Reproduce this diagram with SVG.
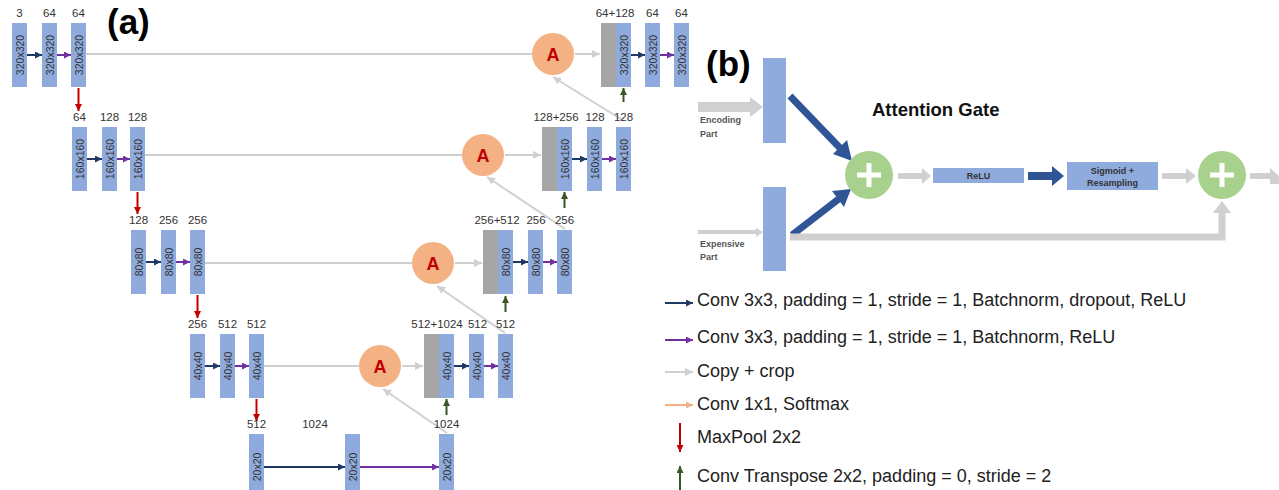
<svg xmlns="http://www.w3.org/2000/svg" width="1279" height="490" viewBox="0 0 1279 490">
<defs>
<style>
.blk{fill:#8FAADC}
.gry{fill:#A6A6A6}
.dim{font-family:"Liberation Sans",Arial,sans-serif;font-size:10.5px;fill:#333;text-anchor:middle;dominant-baseline:central}
.lbl{font-family:"Liberation Sans",Arial,sans-serif;font-size:11.5px;fill:#333;text-anchor:middle}
.ac{fill:#F4B183}
.at{font-family:"Liberation Sans",Arial,sans-serif;font-size:18px;font-weight:bold;fill:#C00000;text-anchor:middle;dominant-baseline:central}
.title{font-family:"Liberation Sans",Arial,sans-serif;font-size:35px;font-weight:bold;fill:#000}
.cn{stroke:#1F3864;stroke-width:2;fill:none}
.cp{stroke:#7030A0;stroke-width:2;fill:none}
.cg{stroke:#D0D0D0;stroke-width:2;fill:none}
.cr{stroke:#C00000;stroke-width:2;fill:none}
.cgr{stroke:#385723;stroke-width:2;fill:none}
.co{stroke:#F4B183;stroke-width:2;fill:none}
.leg{font-family:"Liberation Sans",Arial,sans-serif;font-size:18px;fill:#222}
.sm{font-family:"Liberation Sans",Arial,sans-serif;font-size:9px;font-weight:bold;fill:#555}
.smc{font-family:"Liberation Sans",Arial,sans-serif;font-size:9px;font-weight:bold;fill:#333;text-anchor:middle}
.gc{fill:#A9D18E}
.plus{stroke:#fff;stroke-width:5}
.bg{fill:#D0D0D0}
.bn{fill:#2F5597}
</style>
<marker id="mn" viewBox="0 0 10 10" refX="10" refY="5" markerWidth="7" markerHeight="7" markerUnits="userSpaceOnUse" orient="auto"><path d="M0,0L10,5L0,10z" fill="#1F3864"/></marker>
<marker id="mp" viewBox="0 0 10 10" refX="10" refY="5" markerWidth="7" markerHeight="7" markerUnits="userSpaceOnUse" orient="auto"><path d="M0,0L10,5L0,10z" fill="#7030A0"/></marker>
<marker id="mg" viewBox="0 0 10 10" refX="10" refY="5" markerWidth="8" markerHeight="8" markerUnits="userSpaceOnUse" orient="auto"><path d="M0,0L10,5L0,10z" fill="#D0D0D0"/></marker>
<marker id="mr" viewBox="0 0 10 10" refX="10" refY="5" markerWidth="7" markerHeight="7" markerUnits="userSpaceOnUse" orient="auto"><path d="M0,0L10,5L0,10z" fill="#C00000"/></marker>
<marker id="mgr" viewBox="0 0 10 10" refX="10" refY="5" markerWidth="7" markerHeight="7" markerUnits="userSpaceOnUse" orient="auto"><path d="M0,0L10,5L0,10z" fill="#385723"/></marker>
<marker id="mo" viewBox="0 0 10 10" refX="10" refY="5" markerWidth="7" markerHeight="7" markerUnits="userSpaceOnUse" orient="auto"><path d="M0,0L10,5L0,10z" fill="#F4B183"/></marker>
</defs>
<rect width="1279" height="490" fill="#fff"/>

<text class="title" x="107" y="34">(a)</text>
<text class="title" x="706" y="76">(b)</text>

<!-- connectors -->
<g id="connectors">
<!-- row 1 -->
<line class="cn" x1="27" y1="55" x2="42" y2="55" marker-end="url(#mn)"/>
<line class="cp" x1="57" y1="55" x2="71" y2="55" marker-end="url(#mp)"/>
<line class="cg" x1="86" y1="54" x2="532" y2="54"/>
<line class="cr" x1="78.5" y1="88" x2="78.5" y2="111" marker-end="url(#mr)"/>
<line class="cg" x1="575" y1="54" x2="600" y2="54" marker-end="url(#mg)"/>
<line class="cn" x1="631" y1="55" x2="645" y2="55" marker-end="url(#mn)"/>
<line class="cp" x1="660" y1="55" x2="674" y2="55" marker-end="url(#mp)"/>
<line class="cgr" x1="623.5" y1="102" x2="623.5" y2="88" marker-end="url(#mgr)"/>
<line class="cg" x1="624" y1="121" x2="553" y2="77" marker-end="url(#mg)"/>
<!-- row 2 -->
<line class="cn" x1="86" y1="159" x2="102" y2="159" marker-end="url(#mn)"/>
<line class="cp" x1="116" y1="159" x2="130" y2="159" marker-end="url(#mp)"/>
<line class="cg" x1="145" y1="155" x2="462" y2="155"/>
<line class="cr" x1="137.5" y1="192" x2="137.5" y2="214" marker-end="url(#mr)"/>
<line class="cg" x1="505" y1="155" x2="541" y2="155" marker-end="url(#mg)"/>
<line class="cn" x1="572" y1="159" x2="587" y2="159" marker-end="url(#mn)"/>
<line class="cp" x1="602" y1="159" x2="616" y2="159" marker-end="url(#mp)"/>
<line class="cgr" x1="564.5" y1="208" x2="564.5" y2="192" marker-end="url(#mgr)"/>
<line class="cg" x1="565" y1="229" x2="487" y2="177" marker-end="url(#mg)"/>
<!-- row 3 -->
<line class="cn" x1="145" y1="262" x2="161" y2="262" marker-end="url(#mn)"/>
<line class="cp" x1="175" y1="262" x2="190" y2="262" marker-end="url(#mp)"/>
<line class="cg" x1="205" y1="263" x2="412" y2="263"/>
<line class="cr" x1="197.5" y1="295" x2="197.5" y2="318" marker-end="url(#mr)"/>
<line class="cg" x1="455" y1="263" x2="482" y2="263" marker-end="url(#mg)"/>
<line class="cn" x1="513" y1="262" x2="528" y2="262" marker-end="url(#mn)"/>
<line class="cp" x1="543" y1="262" x2="557" y2="262" marker-end="url(#mp)"/>
<line class="cgr" x1="505.5" y1="312" x2="505.5" y2="296" marker-end="url(#mgr)"/>
<line class="cg" x1="505" y1="333" x2="437" y2="286" marker-end="url(#mg)"/>
<!-- row 4 -->
<line class="cn" x1="205" y1="366" x2="220" y2="366" marker-end="url(#mn)"/>
<line class="cp" x1="235" y1="366" x2="249" y2="366" marker-end="url(#mp)"/>
<line class="cg" x1="264" y1="366" x2="359" y2="366"/>
<line class="cr" x1="256.5" y1="399" x2="256.5" y2="421" marker-end="url(#mr)"/>
<line class="cg" x1="402" y1="366" x2="423" y2="366" marker-end="url(#mg)"/>
<line class="cn" x1="454" y1="366" x2="469" y2="366" marker-end="url(#mn)"/>
<line class="cp" x1="484" y1="366" x2="498" y2="366" marker-end="url(#mp)"/>
<line class="cgr" x1="446.5" y1="415" x2="446.5" y2="399" marker-end="url(#mgr)"/>
<line class="cg" x1="447" y1="433" x2="383" y2="389" marker-end="url(#mg)"/>
<!-- row 5 -->
<line class="cn" x1="264" y1="467" x2="345" y2="467" marker-end="url(#mn)"/>
<line class="cp" x1="360" y1="467" x2="439" y2="467" marker-end="url(#mp)"/>
<!-- legend arrows -->
<line class="cn" x1="665" y1="303" x2="693" y2="303" marker-end="url(#mn)"/>
<line class="cp" x1="665" y1="340" x2="693" y2="340" marker-end="url(#mp)"/>
<line class="cg" x1="665" y1="372" x2="693" y2="372" marker-end="url(#mg)"/>
<line class="co" x1="665" y1="405" x2="693" y2="405" marker-end="url(#mo)"/>
<line class="cr" x1="680" y1="423" x2="680" y2="452" marker-end="url(#mr)"/>
<line class="cgr" x1="680" y1="490" x2="680" y2="466" marker-end="url(#mgr)"/>
<!-- (b) connectors -->
<polygon class="bg" points="698,102 750,102 750,97 763,107 750,117 750,112 698,112"/>
<polygon class="bg" points="698,230 756,230 756,228 763,232 756,237 756,234 698,234"/>
<line x1="790" y1="96" x2="841" y2="149" stroke="#2F5597" stroke-width="7"/>
<polygon class="bn" points="852,161 833,154 847,140"/>
<line x1="792" y1="235" x2="840" y2="198" stroke="#2F5597" stroke-width="7"/>
<polygon class="bn" points="851,189 844,207 832,191"/>
<polygon class="bg" points="898,173 922,173 922,168 931,176 922,184 922,179 898,179"/>
<polygon class="bn" points="1028,172 1052,172 1052,166 1064,176 1052,186 1052,180 1028,180"/>
<polygon class="bg" points="1162,173 1186,173 1186,168 1196,176 1186,184 1186,179 1162,179"/>
<polygon class="bg" points="1250,173 1270,173 1270,168 1279,176 1279,184 1270,184 1270,179 1250,179"/>
<polyline points="790,237 1222,237 1222,212" fill="none" stroke="#D0D0D0" stroke-width="7"/>
<polygon class="bg" points="1213,213 1222,201 1231,213"/>
</g>

<!-- encoder row 1 -->
<g id="e1a"><rect class="blk" x="12" y="23" width="15" height="64"/><text class="lbl" x="19.5" y="17">3</text><text class="dim" transform="translate(19.5,55) rotate(-90)">320x320</text></g>
<g id="e1b"><rect class="blk" x="42" y="23" width="15" height="64"/><text class="lbl" x="49.5" y="17">64</text><text class="dim" transform="translate(49.5,55) rotate(-90)">320x320</text></g>
<g id="e1c"><rect class="blk" x="71" y="23" width="15" height="64"/><text class="lbl" x="78.5" y="17">64</text><text class="dim" transform="translate(78.5,55) rotate(-90)">320x320</text></g>
<!-- encoder row 2 -->
<g id="e2a"><rect class="blk" x="72" y="127" width="15" height="64"/><text class="lbl" x="79.5" y="121">64</text><text class="dim" transform="translate(79.5,159) rotate(-90)">160x160</text></g>
<g id="e2b"><rect class="blk" x="102" y="127" width="15" height="64"/><text class="lbl" x="109.5" y="121">128</text><text class="dim" transform="translate(109.5,159) rotate(-90)">160x160</text></g>
<g id="e2c"><rect class="blk" x="130" y="127" width="15" height="64"/><text class="lbl" x="137.5" y="121">128</text><text class="dim" transform="translate(137.5,159) rotate(-90)">160x160</text></g>
<!-- encoder row 3 -->
<g id="e3a"><rect class="blk" x="131" y="230" width="15" height="64"/><text class="lbl" x="138.5" y="224">128</text><text class="dim" transform="translate(138.5,262) rotate(-90)">80x80</text></g>
<g id="e3b"><rect class="blk" x="161" y="230" width="15" height="64"/><text class="lbl" x="168.5" y="224">256</text><text class="dim" transform="translate(168.5,262) rotate(-90)">80x80</text></g>
<g id="e3c"><rect class="blk" x="190" y="230" width="15" height="64"/><text class="lbl" x="197.5" y="224">256</text><text class="dim" transform="translate(197.5,262) rotate(-90)">80x80</text></g>
<!-- encoder row 4 -->
<g id="e4a"><rect class="blk" x="190" y="334" width="15" height="64"/><text class="lbl" x="197.5" y="328">256</text><text class="dim" transform="translate(197.5,366) rotate(-90)">40x40</text></g>
<g id="e4b"><rect class="blk" x="220" y="334" width="15" height="64"/><text class="lbl" x="227.5" y="328">512</text><text class="dim" transform="translate(227.5,366) rotate(-90)">40x40</text></g>
<g id="e4c"><rect class="blk" x="249" y="334" width="15" height="64"/><text class="lbl" x="256.5" y="328">512</text><text class="dim" transform="translate(256.5,366) rotate(-90)">40x40</text></g>
<!-- bottleneck row 5 -->
<g id="b5a"><rect class="blk" x="249" y="434" width="15" height="60"/><text class="lbl" x="256.5" y="428">512</text><text class="dim" transform="translate(256.5,467) rotate(-90)">20x20</text></g>
<g id="b5b"><rect class="blk" x="345" y="434" width="15" height="60"/><text class="lbl" x="315" y="428">1024</text><text class="dim" transform="translate(352.5,467) rotate(-90)">20x20</text></g>
<g id="b5c"><rect class="blk" x="439" y="434" width="15" height="60"/><text class="lbl" x="446.5" y="428">1024</text><text class="dim" transform="translate(446.5,467) rotate(-90)">20x20</text></g>

<!-- attention circles -->
<g id="A1"><circle class="ac" cx="553" cy="54" r="21"/><text class="at" x="553" y="55">A</text></g>
<g id="A2"><circle class="ac" cx="483" cy="155" r="21"/><text class="at" x="483" y="156">A</text></g>
<g id="A3"><circle class="ac" cx="433" cy="263" r="21"/><text class="at" x="433" y="264">A</text></g>
<g id="A4"><circle class="ac" cx="380" cy="366" r="21"/><text class="at" x="380" y="367">A</text></g>

<!-- decoder row 1 -->
<g id="d1a"><rect class="gry" x="601" y="23" width="15" height="64"/><rect class="blk" x="616" y="23" width="15" height="64"/><text class="lbl" x="615" y="17">64+128</text><text class="dim" transform="translate(623.5,55) rotate(-90)">320x320</text></g>
<g id="d1b"><rect class="blk" x="645" y="23" width="15" height="64"/><text class="lbl" x="652.5" y="17">64</text><text class="dim" transform="translate(652.5,55) rotate(-90)">320x320</text></g>
<g id="d1c"><rect class="blk" x="674" y="23" width="15" height="64"/><text class="lbl" x="681.5" y="17">64</text><text class="dim" transform="translate(681.5,55) rotate(-90)">320x320</text></g>
<!-- decoder row 2 -->
<g id="d2a"><rect class="gry" x="542" y="127" width="15" height="64"/><rect class="blk" x="557" y="127" width="15" height="64"/><text class="lbl" x="556" y="121">128+256</text><text class="dim" transform="translate(564.5,159) rotate(-90)">160x160</text></g>
<g id="d2b"><rect class="blk" x="587" y="127" width="15" height="64"/><text class="lbl" x="595" y="121">128</text><text class="dim" transform="translate(594.5,159) rotate(-90)">160x160</text></g>
<g id="d2c"><rect class="blk" x="616" y="127" width="15" height="64"/><text class="lbl" x="623.5" y="121">128</text><text class="dim" transform="translate(623.5,159) rotate(-90)">160x160</text></g>
<!-- decoder row 3 -->
<g id="d3a"><rect class="gry" x="483" y="230" width="15" height="64"/><rect class="blk" x="498" y="230" width="15" height="64"/><text class="lbl" x="497" y="224">256+512</text><text class="dim" transform="translate(505.5,262) rotate(-90)">80x80</text></g>
<g id="d3b"><rect class="blk" x="528" y="230" width="15" height="64"/><text class="lbl" x="536" y="224">256</text><text class="dim" transform="translate(535.5,262) rotate(-90)">80x80</text></g>
<g id="d3c"><rect class="blk" x="557" y="230" width="15" height="64"/><text class="lbl" x="564.5" y="224">256</text><text class="dim" transform="translate(564.5,262) rotate(-90)">80x80</text></g>
<!-- decoder row 4 -->
<g id="d4a"><rect class="gry" x="424" y="334" width="15" height="64"/><rect class="blk" x="439" y="334" width="15" height="64"/><text class="lbl" x="437" y="328">512+1024</text><text class="dim" transform="translate(446.5,366) rotate(-90)">40x40</text></g>
<g id="d4b"><rect class="blk" x="469" y="334" width="15" height="64"/><text class="lbl" x="477.5" y="328">512</text><text class="dim" transform="translate(476.5,366) rotate(-90)">40x40</text></g>
<g id="d4c"><rect class="blk" x="498" y="334" width="15" height="64"/><text class="lbl" x="505.5" y="328">512</text><text class="dim" transform="translate(505.5,366) rotate(-90)">40x40</text></g>

<!-- (b) attention gate -->
<text x="872" y="116" font-family="Liberation Sans, Arial, sans-serif" font-size="18.5" font-weight="bold" fill="#111">Attention Gate</text>
<g id="enc"><rect class="blk" x="763" y="58" width="23" height="85"/></g>
<g id="exp"><rect class="blk" x="763" y="187" width="23" height="84"/></g>
<text class="sm" x="700" y="123">Encoding</text>
<text class="sm" x="700" y="137">Part</text>
<text class="sm" x="700" y="247">Expensive</text>
<text class="sm" x="700" y="260">Part</text>
<g id="add1"><circle class="gc" cx="869" cy="175" r="24"/><line class="plus" x1="857" y1="175" x2="881" y2="175"/><line class="plus" x1="869" y1="163" x2="869" y2="187"/></g>
<g id="relu"><rect class="blk" x="933" y="168" width="91" height="15"/><text class="smc" x="978.5" y="179">ReLU</text></g>
<g id="sig"><rect class="blk" x="1067" y="162" width="91" height="28"/><text class="smc" x="1112.5" y="174">Sigmoid +</text><text class="smc" x="1112.5" y="186">Resampling</text></g>
<g id="add2"><circle class="gc" cx="1222" cy="175" r="24"/><line class="plus" x1="1210" y1="175" x2="1234" y2="175"/><line class="plus" x1="1222" y1="163" x2="1222" y2="187"/></g>

<!-- legend -->
<g id="legend">
<text class="leg" x="697" y="306">Conv 3x3, padding = 1, stride = 1, Batchnorm, dropout, ReLU</text>
<text class="leg" x="697" y="343">Conv 3x3, padding = 1, stride = 1, Batchnorm, ReLU</text>
<text class="leg" x="697" y="377">Copy + crop</text>
<text class="leg" x="697" y="410">Conv 1x1, Softmax</text>
<text class="leg" x="697" y="443">MaxPool 2x2</text>
<text class="leg" x="697" y="482">Conv Transpose 2x2, padding = 0, stride = 2</text>
</g>
</svg>
